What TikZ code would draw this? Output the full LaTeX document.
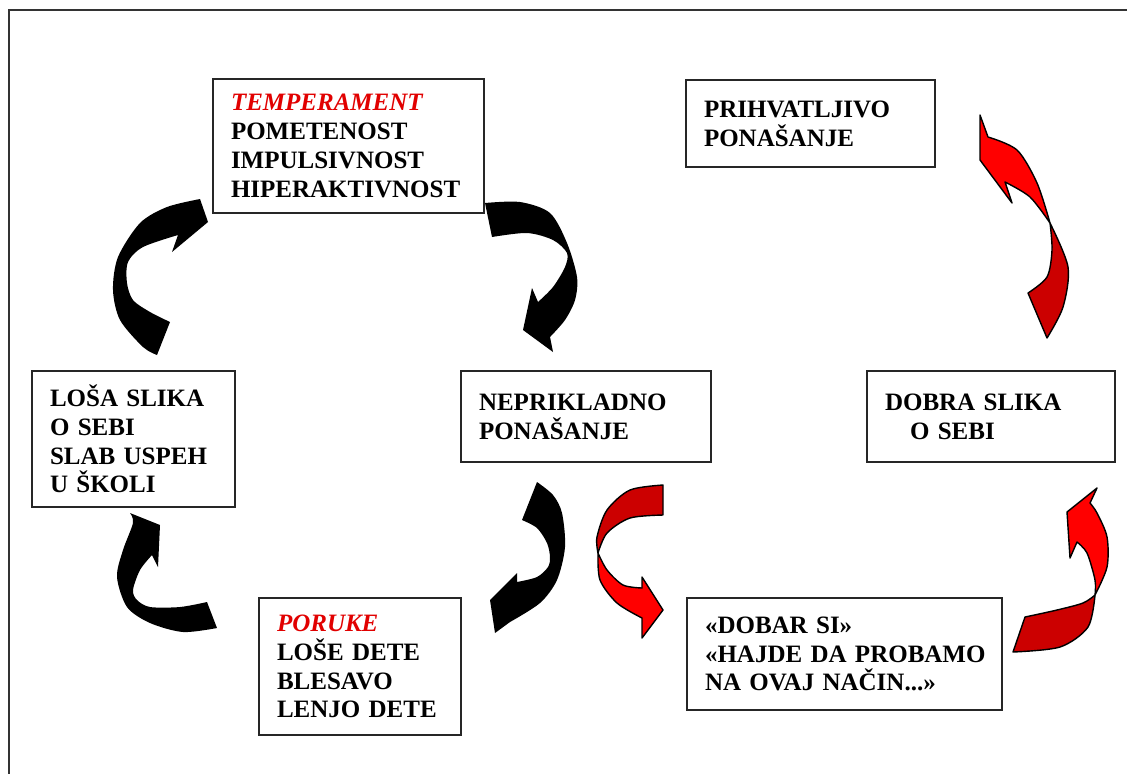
\documentclass[tikz,border=0pt]{standalone}
\usepackage{fontspec}
\setmainfont{Liberation Serif}
\usepackage{tikz}

\definecolor{labelred}{RGB}{225,0,0}
\definecolor{arrowred}{RGB}{255,0,0}
\definecolor{arrowdark}{RGB}{204,0,0}
\newcommand{\redlabel}[1]{\textcolor{labelred}{\textit{#1}}}

\tikzset{
  txtbox/.style={draw=black!85, line width=1pt, inner xsep=9pt, align=left,
    font=\fontsize{12.5}{14.4}\selectfont\bfseries},
  blackarrow/.style={fill=black},
  redfront/.style={fill=arrowred, draw=black, line width=0.7pt, line join=round},
  redback/.style={fill=arrowdark, draw=black, line width=0.7pt, line join=round}
}

\begin{document}
\begin{tikzpicture}[x=0.5pt, y=-0.5pt]
				\useasboundingbox (0,0) rectangle (1127,773);
				% Draw the outer frame (cut off at right and bottom)
				\draw[line width=1.4pt, black!80] (1140,10) -- (9,10) -- (9,790);
				
				% Draw the boxes of the vicious and the good circle
				\node[txtbox, text width=117.5pt, minimum height=67pt] (temper) at (348.5,146)
				  {\redlabel{TEMPERAMENT}\\ POMETENOST\\ IMPULSIVNOST\\ HIPERAKTIVNOST};
				\node[txtbox, text width=106.5pt, minimum height=43.5pt] (prihv) at (810.5,123.5)
				  {PRIHVATLJIVO\\ PONAŠANJE\\[3pt]};
				\node[txtbox, text width=83.5pt, minimum height=68pt] (losa) at (133.5,439)
				  {LOŠA SLIKA\\ O SEBI\\ SLAB USPEH\\ U ŠKOLI};
				\node[txtbox, text width=107pt, minimum height=45.5pt] (nepr) at (586,416.5)
				  {NEPRIKLADNO\\ PONAŠANJE\\[4pt]};
				\node[txtbox, text width=106pt, minimum height=45.5pt] (dobra) at (991,416.5)
				  {DOBRA SLIKA\\ \hspace*{12.5pt}O SEBI\\[4pt]};
				\node[txtbox, text width=83pt, minimum height=68.5pt] (poruke) at (360,666.5)
				  {\redlabel{PORUKE}\\ LOŠE DETE\\ BLESAVO\\ LENJO DETE};
				\node[txtbox, text width=139.5pt, minimum height=56pt] (dobar) at (844.5,654)
				  {«DOBAR SI»\\ \mbox{«HAJDE DA PROBAMO}\\ NA OVAJ NAČIN...»\\[2pt]};
				
				% Black curved arrows (losa -> temper -> nepr -> poruke -> losa)
				\fill[blackarrow] plot[smooth] coordinates {(157,355) (143,347) (120,320) (113,290) (118,257) (140,223) (167,207) (200,199)}
				  -- (208,222) -- (172,252) -- (178,235)
				  -- plot[smooth] coordinates {(178,235) (143,247) (128,262) (127,283) (133,300) (150,312) (170,322)} -- cycle;
				\fill[blackarrow] plot[smooth] coordinates {(485,203) (520,202) (550,213) (567,243) (577,277) (575,300) (565,320) (550,337)}
				  -- (553,352) -- (523,330) -- (532,288) -- (538,302)
				  -- plot[smooth] coordinates {(538,302) (553,287) (565,267) (567,253) (553,240) (527,233) (492,237)} -- cycle;
				\fill[blackarrow] plot[smooth] coordinates {(537,482) (553,495) (562,513) (565,547) (557,580) (540,603) (510,622)}
				  -- (495,633) -- (490,600) -- (517,573) -- (517,582)
				  -- plot[smooth] coordinates {(517,582) (537,577) (548,567) (550,557) (547,543) (537,528) (522,520)} -- cycle;
				\fill[blackarrow] (130,513) -- (160,525) -- (158,567) -- (152,555)
				  -- plot[smooth] coordinates {(152,555) (140,570) (133,590) (137,600) (150,607) (180,607) (207,602)}
				  -- (217,628)
				  -- plot[smooth] coordinates {(217,628) (183,632) (150,623) (127,607) (117,577) (123,550) (133,523) (130,513)} -- cycle;
				
				% Red curved arrows (nepr -> dobar -> dobra -> prihv)
				\draw[redback] plot[smooth] coordinates {(663,485) (630,490) (607,510) (597,537) (598,553)}
				  -- plot[smooth] coordinates {(598,553) (607,533) (630,518) (663,515)} -- cycle;
				\draw[redfront] plot[smooth] coordinates {(598,553) (600,580) (617,603) (642,618)}
				  -- (642,638) -- (663,610) -- (642,577) -- (642,588)
				  -- plot[smooth] coordinates {(642,588) (623,585) (607,570) (598,553)} -- cycle;
				\draw[redback] (1013,652) -- (1025,617)
				  -- plot[smooth] coordinates {(1025,617) (1057,610) (1083,603) (1095,595)}
				  -- plot[smooth] coordinates {(1095,595) (1088,627) (1060,647) (1013,652)} -- cycle;
				\draw[redfront] plot[smooth] coordinates {(1095,595) (1107,567) (1107,537) (1097,513) (1090,503)}
				  -- (1097,488) -- (1067,512) -- (1070,558) -- (1077,542)
				  -- plot[smooth] coordinates {(1077,542) (1087,553) (1095,580) (1095,595)} -- cycle;
				\draw[redback] (1028,293) -- (1047,338)
				  -- plot[smooth] coordinates {(1047,338) (1063,307) (1068,267) (1050,223)}
				  -- plot[smooth] coordinates {(1050,223) (1052,250) (1047,277) (1028,293)} -- cycle;
				\draw[redfront] plot[smooth] coordinates {(1050,223) (1037,183) (1017,150) (988,137)}
				  -- (980,115) -- (980,160) -- (1012,203) -- (1005,182)
				  -- plot[smooth] coordinates {(1005,182) (1030,197) (1050,223)} -- cycle;
			\end{tikzpicture}
\end{document}
